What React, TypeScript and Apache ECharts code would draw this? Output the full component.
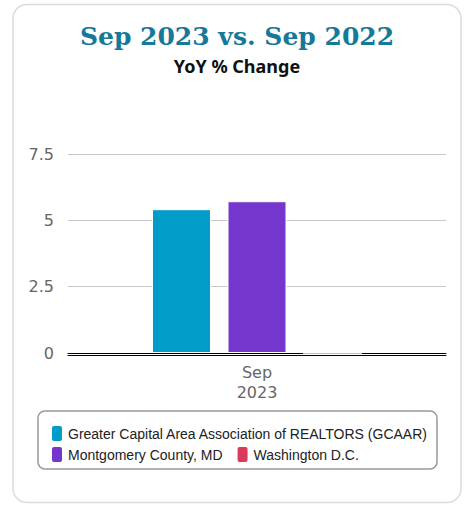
import React, { useEffect, useRef } from "react";
import * as echarts from "echarts";

const categories = ["Sep\n2023"];
const seriesNames = [
  "Greater Capital Area Association of REALTORS (GCAAR)",
  "Montgomery County, MD",
  "Washington D.C.",
];
const seriesColors = ["#019cc8", "#7436cc", "#dc3a5b"];
const gcaarValues = [5.42];
const montgomeryValues = [5.72];
const dcValues = [0];
const yTicks = { min: 0, max: 7.5, interval: 2.5 };
const titleText = "Sep 2023 vs. Sep 2022";
const subtitleText = "YoY % Change";

export default function App() {
  const ref = useRef<HTMLDivElement>(null);
  useEffect(() => {
    if (!ref.current) return;
    const chart = echarts.init(ref.current, undefined, { renderer: "svg" });
    const values = [gcaarValues, montgomeryValues, dcValues];
    const legendText = {
      fontFamily: "Liberation Sans, Arial, sans-serif",
      fontSize: 14,
      color: "#222",
    };
    chart.setOption({
      animation: false,
      graphic: [
        {
          type: "rect",
          z: -10,
          shape: { x: 13, y: 4.5, width: 448, height: 498, r: 14 },
          style: { fill: "#fff", stroke: "#dcdcdc", lineWidth: 1.5 },
        },
        {
          type: "rect",
          z: -5,
          shape: { x: 38, y: 411, width: 399, height: 58, r: 7 },
          style: { fill: "#fff", stroke: "#999", lineWidth: 1.5 },
        },
        {
          type: "text",
          x: 237,
          y: 36,
          style: {
            text: titleText,
            align: "center",
            verticalAlign: "middle",
            fontFamily: "DejaVu Serif, serif",
            fontWeight: "bold",
            fontSize: 25,
            fill: "#15799a",
          },
        },
        {
          type: "text",
          x: 237,
          y: 66,
          style: {
            text: subtitleText,
            align: "center",
            verticalAlign: "middle",
            fontFamily: "Noto Sans, sans-serif",
            fontWeight: "bold",
            fontSize: 18,
            fill: "#111",
          },
        },
      ],
      legend: [
        {
          data: [seriesNames[0]],
          left: 45,
          top: 419,
          padding: 5,
          icon: "roundRect",
          itemWidth: 12,
          itemHeight: 17,
          textStyle: legendText,
        },
        {
          data: [seriesNames[1], seriesNames[2]],
          left: 45,
          top: 440,
          padding: 5,
          itemGap: 13,
          icon: "roundRect",
          itemWidth: 12,
          itemHeight: 17,
          textStyle: legendText,
        },
      ],
      grid: { left: 68, right: 20, top: 154, bottom: 153 },
      xAxis: [
        {
          type: "category",
          data: categories,
          axisTick: { show: false },
          axisLine: { show: true, lineStyle: { color: "#000", width: 1 } },
          axisLabel: {
            color: "#666",
            fontFamily: "DejaVu Sans, sans-serif",
            fontSize: 16,
            lineHeight: 20,
            margin: 9,
          },
        },
        {
          type: "category",
          data: categories,
          position: "bottom",
          offset: 2,
          axisTick: { show: false },
          axisLabel: { show: false },
          axisLine: { show: true, lineStyle: { color: "#000", width: 1 } },
        },
      ],
      yAxis: {
        type: "value",
        min: yTicks.min,
        max: yTicks.max,
        interval: yTicks.interval,
        axisLine: { show: false },
        axisTick: { show: false },
        splitLine: { lineStyle: { color: "#c8c8c8", width: 1 } },
        axisLabel: {
          color: "#666",
          fontFamily: "DejaVu Sans, sans-serif",
          fontSize: 16,
          margin: 14,
        },
      },
      series: seriesNames.map((name, i) => ({
        name,
        type: "bar",
        data: values[i],
        barWidth: 59,
        barGap: "28%",
        z: 5,
        itemStyle: {
          color: seriesColors[i],
          borderColor: "#fff",
          borderWidth: 1,
        },
      })),
    });
    return () => chart.dispose();
  }, []);
  return (
    <div
      ref={ref}
      style={{ position: "absolute", left: 0, top: 0, width: 466, height: 506 }}
    />
  );
}
